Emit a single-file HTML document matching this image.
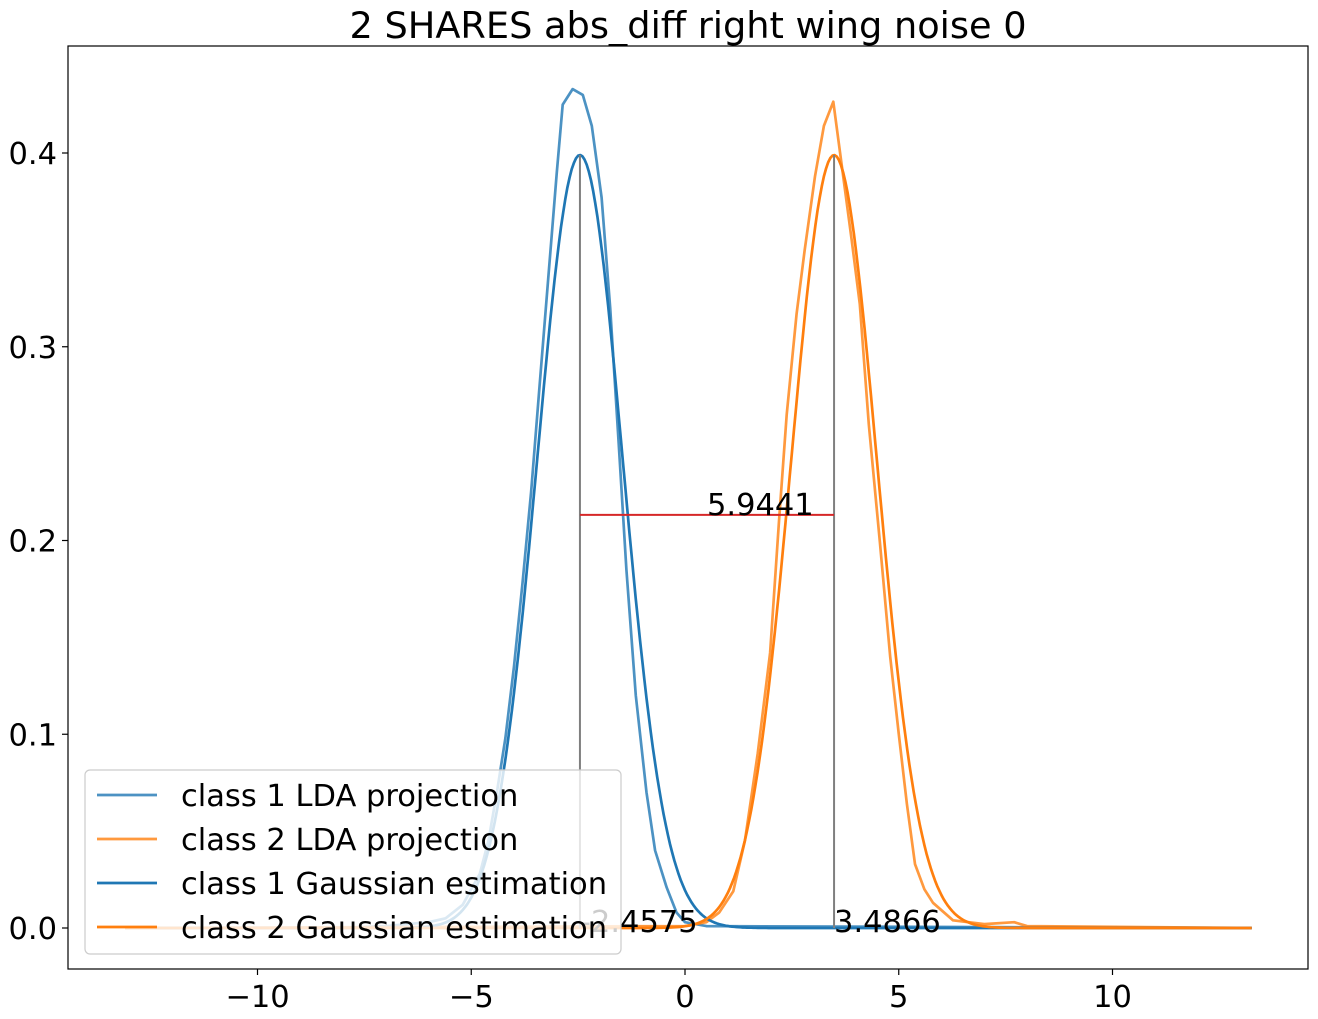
<!DOCTYPE html>
<html><head><meta charset="utf-8"><style>
body{margin:0;background:#fff;}
svg{display:block;font-family:"DejaVu Sans","Liberation Sans",sans-serif;}
</style></head><body>
<svg id="chart" width="1318" height="1019" viewBox="0 0 1318 1019">
<text x="688" y="38" font-size="36.7" text-anchor="middle">2 SHARES abs_diff right wing noise 0</text>
<g id="plot"></g>
<rect x="68" y="46" width="1240" height="923" fill="none" stroke="#000" stroke-width="1.2"/>
<g id="xt"></g>
<g id="yt"></g>
<g>
<rect x="85" y="770" width="536" height="184" rx="5" fill="#fff" fill-opacity="0.8" stroke="#ccc" stroke-width="1.2"/>
<g font-size="30.5">
<line x1="97" y1="795" x2="157" y2="795" stroke="#1f77b4" stroke-opacity="0.8" stroke-width="2.7"/>
<text x="181" y="806">class 1 LDA projection</text>
<line x1="97" y1="839" x2="157" y2="839" stroke="#ff7f0e" stroke-opacity="0.8" stroke-width="2.7"/>
<text x="181" y="850">class 2 LDA projection</text>
<line x1="97" y1="883" x2="157" y2="883" stroke="#1f77b4" stroke-width="2.7"/>
<text x="181" y="894">class 1 Gaussian estimation</text>
<line x1="97" y1="927" x2="157" y2="927" stroke="#ff7f0e" stroke-width="2.7"/>
<text x="181" y="938">class 2 Gaussian estimation</text>
</g></g>
</svg>
<script>
const lda1X=[-13.1,-8,-7,-6,-5.6,-5.2,-4.8,-4.6,-4.4,-4.2,-4.0,-3.8,-3.6,-3.4,-3.2,-3.0,-2.86,-2.63,-2.39,-2.18,-1.95,-1.75,-1.55,-1.37,-1.15,-0.9,-0.7,-0.43,-0.2,0,0.5,13.26];
const lda1Y=[0,0,0.001,0.003,0.005,0.012,0.028,0.045,0.07,0.098,0.135,0.178,0.225,0.28,0.335,0.39,0.425,0.433,0.43,0.414,0.377,0.32,0.25,0.185,0.12,0.07,0.04,0.021,0.008,0.003,0.001,0];
const lda2X=[-13.1,0,0.5,0.8,1.13,1.4,1.7,1.99,2.2,2.38,2.61,2.8,3.04,3.25,3.47,3.7,3.9,4.09,4.3,4.56,4.8,5.0,5.19,5.38,5.6,5.8,6.27,7,7.7,8,13.26];
const lda2Y=[0,0.001,0.003,0.008,0.019,0.045,0.09,0.142,0.21,0.265,0.317,0.35,0.388,0.414,0.4265,0.388,0.355,0.322,0.26,0.199,0.14,0.1,0.064,0.033,0.02,0.013,0.004,0.002,0.003,0.001,0];
const means=[-2.4575,3.4866];
const sigmas=[1,1];
const distLabel=["5.9441"];
const xTicks=[-10,-5,0,5,10];
const yTicks=[0.0,0.1,0.2,0.3,0.4];
const X0=685,XS=42.75,Y0=928,YS=1937.5;
const sx=v=>X0+v*XS, sy=v=>Y0-v*YS;
const NS="http://www.w3.org/2000/svg";
const plot=document.getElementById('plot');
function mk(t,a,p){const e=document.createElementNS(NS,t);for(const k in a)e.setAttribute(k,a[k]);(p||plot).appendChild(e);return e;}
function path(xs,ys,color,op,name){
 const d=xs.map((x,i)=>(i?'L':'M')+sx(x).toFixed(1)+','+sy(ys[i]).toFixed(1)).join('');
 const e=mk('path',{d:d,fill:'none',stroke:color,'stroke-opacity':op,'stroke-width':2.7,'stroke-linejoin':'round'});
 
 
}
path(lda1X,lda1Y,'#1f77b4',0.8,'class1-lda-line');
path(lda2X,lda2Y,'#ff7f0e',0.8,'class2-lda-line');
const gcol=['#1f77b4','#ff7f0e'];
means.forEach((m,k)=>{
 const xs=[],ys=[];
 for(let x=-13.1;x<=13.26;x+=0.05){xs.push(x);ys.push(Math.exp(-0.5*((x-m)/sigmas[k])**2)/(sigmas[k]*Math.sqrt(2*Math.PI)));}
 path(xs,ys,gcol[k],1,'class'+(k+1)+'-gaussian-line');
});
means.forEach((m,k)=>{
 const l=mk('line',{x1:sx(m),x2:sx(m),y1:sy(0),y2:sy(1/(sigmas[k]*Math.sqrt(2*Math.PI))),stroke:'#7f7f7f','stroke-width':2});
 
 
 const t=mk('text',{x:sx(m),y:sy(0)+4,'font-size':30.5});
 t.textContent=m.toFixed(4);
 
 
});
const hy=Math.max(...lda2Y)/2;
const rl=mk('line',{x1:sx(means[0]),x2:sx(means[1]),y1:sy(hy),y2:sy(hy),stroke:'#d62728','stroke-width':2});


const dt=mk('text',{x:sx((means[0]+means[1])/2),y:sy(hy),'font-size':30.5});
dt.textContent=distLabel[0];


const xt=document.getElementById('xt'),yt=document.getElementById('yt');
xTicks.forEach(v=>{
 const l=mk('line',{x1:sx(v),x2:sx(v),y1:969,y2:975,stroke:'#000','stroke-width':1.2},xt);
 
 
 const t=mk('text',{x:sx(v),y:1007,'font-size':30.5,'text-anchor':'middle'},xt);
 t.textContent=v<0?'\u2212'+Math.abs(v):String(v);
 
 
});
yTicks.forEach(v=>{
 const l=mk('line',{x1:62,x2:68,y1:sy(v),y2:sy(v),stroke:'#000','stroke-width':1.2},yt);
 
 
 const t=mk('text',{x:57,y:sy(v)+11,'font-size':30.5,'text-anchor':'end'},yt);
 t.textContent=v.toFixed(1);
 
 
});
</script>
</body></html>
